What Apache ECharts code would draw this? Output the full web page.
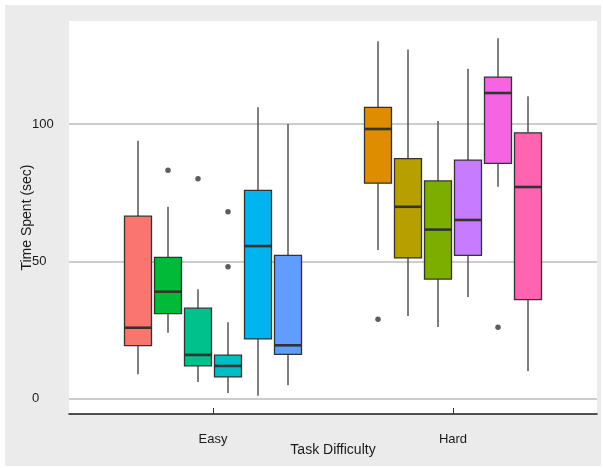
<!DOCTYPE html>
<html>
<head>
<meta charset="utf-8">
<script src="https://cdn.jsdelivr.net/npm/echarts@6/dist/echarts.min.js"></script>
<style>
  html, body { margin: 0; padding: 0; background: #ffffff; }
  #bg { position: absolute; left: 5px; top: 5px; width: 596px; height: 461px; background: #EBEBEB; }
  #chart { position: absolute; left: 0; top: 0; width: 603px; height: 468px; }
</style>
</head>
<body>
<div id="bg"></div>
<div id="chart"></div>
<script>
// ---- data ----
const difficulty = ['Easy', 'Hard'];
const yTicks = [0, 50, 100];
// one entry per box: Easy boxes 1..6, then Hard boxes 1..6
const boxGroup    = [0, 0, 0, 0, 0, 0, 1, 1, 1, 1, 1, 1];
const boxSlot     = [0, 1, 2, 3, 4, 5, 0, 1, 2, 3, 4, 5];
const whiskerLow  = [9.0, 24.1, 6.1, 2.1, 1.1, 5.0, 54.2, 30.2, 26.2, 37.1, 77.2, 10.1];
const quartile1   = [19.4, 31.0, 12.0, 8.0, 21.8, 16.2, 78.5, 51.3, 43.6, 52.2, 85.7, 36.1];
const medians     = [25.9, 39.0, 16.0, 12.0, 55.6, 19.5, 98.2, 69.9, 61.6, 65.1, 111.3, 77.1];
const quartile3   = [66.5, 51.5, 33.0, 15.9, 75.9, 52.2, 106.1, 87.4, 79.3, 86.9, 117.1, 96.8];
const whiskerHigh = [93.9, 69.9, 39.9, 27.9, 106.1, 100.0, 130.1, 127.1, 101.1, 120.1, 131.2, 110.1];
// outliers: [box index, value]
const outlierBox   = [1, 2, 3, 3, 6, 10];
const outlierValue = [83.2, 80.1, 68.1, 48.1, 29.0, 26.1];

const palette = ['#F8766D', '#00BA38', '#00C08B', '#00BFC4', '#00B4F0', '#619CFF',
                 '#DE8C00', '#B79F00', '#7CAE00', '#C77CFF', '#F564E3', '#FF64B0'];

const dodge = 0.125;
const boxW = 0.1125;
function centerOf(i) { return boxGroup[i] + 1 + (boxSlot[i] - 2.5) * dodge; }

const boxData = whiskerLow.map((_, i) => [centerOf(i), whiskerLow[i], quartile1[i], medians[i], quartile3[i], whiskerHigh[i]]);
const outlierData = outlierBox.map((b, k) => [centerOf(b), outlierValue[k]]);

const chart = echarts.init(document.getElementById('chart'), null, { renderer: 'canvas' });
const font = '"Liberation Sans", Arial, sans-serif';

chart.setOption({
  animation: false,
  backgroundColor: 'transparent',
  textStyle: { fontFamily: font },
  grid: { left: 69, right: 6, top: 21, bottom: 54, show: true, backgroundColor: '#ffffff', borderWidth: 0 },
  xAxis: {
    type: 'value', min: 0.4, max: 2.6,
    name: 'Task Difficulty', nameLocation: 'middle', nameGap: 29, nameMoveOverlap: false,
    nameTextStyle: { color: '#1a1a1a', fontSize: 14, fontFamily: font },
    axisLine: { show: true, onZero: false, lineStyle: { color: '#1a1a1a', width: 1.5 } },
    axisTick: { show: true, inside: true, length: 6, customValues: [1, 2], lineStyle: { color: '#333', width: 1 } },
    axisLabel: { customValues: [1, 2], margin: 19, color: '#1a1a1a', fontSize: 13, fontFamily: font,
                 formatter: v => difficulty[Math.round(v) - 1] },
    splitLine: { show: false }
  },
  yAxis: {
    type: 'value', min: -5.5, max: 137.5,
    name: 'Time Spent (sec)', nameLocation: 'middle', nameGap: 35, nameRotate: 90, nameMoveOverlap: false,
    nameTextStyle: { color: '#1a1a1a', fontSize: 14, fontFamily: font },
    axisLine: { show: false },
    axisTick: { show: false, customValues: yTicks },
    axisLabel: { customValues: yTicks, margin: 37, align: 'left', color: '#1a1a1a', fontSize: 13, fontFamily: font },
    splitLine: { show: true, lineStyle: { color: '#CCCCCC', width: 2 } }
  },
  series: [
    {
      type: 'custom',
      data: boxData,
      encode: { x: 0, y: [1, 2, 3, 4, 5] },
      z: 3,
      renderItem: function (params, api) {
        const x = api.value(0);
        const lo = api.coord([x, api.value(1)]);
        const q1 = api.coord([x, api.value(2)]);
        const md = api.coord([x, api.value(3)]);
        const q3 = api.coord([x, api.value(4)]);
        const hi = api.coord([x, api.value(5)]);
        const w = api.size([boxW, 0])[0];
        const cx = lo[0];
        const color = palette[params.dataIndex];
        return {
          type: 'group',
          children: [
            { type: 'line', shape: { x1: cx, y1: hi[1], x2: cx, y2: q3[1] }, style: { stroke: '#555555', lineWidth: 1.5 } },
            { type: 'line', shape: { x1: cx, y1: q1[1], x2: cx, y2: lo[1] }, style: { stroke: '#555555', lineWidth: 1.5 } },
            { type: 'rect', shape: { x: cx - w / 2, y: q3[1], width: w, height: q1[1] - q3[1] },
              style: { fill: color, stroke: '#333333', lineWidth: 1.3 } },
            { type: 'line', shape: { x1: cx - w / 2, y1: md[1], x2: cx + w / 2, y2: md[1] },
              style: { stroke: '#333333', lineWidth: 2.6 } }
          ]
        };
      }
    },
    {
      type: 'scatter',
      data: outlierData,
      symbol: 'circle',
      symbolSize: 5.5,
      itemStyle: { color: '#333333' },
      z: 4
    }
  ]
});
</script>
</body>
</html>
